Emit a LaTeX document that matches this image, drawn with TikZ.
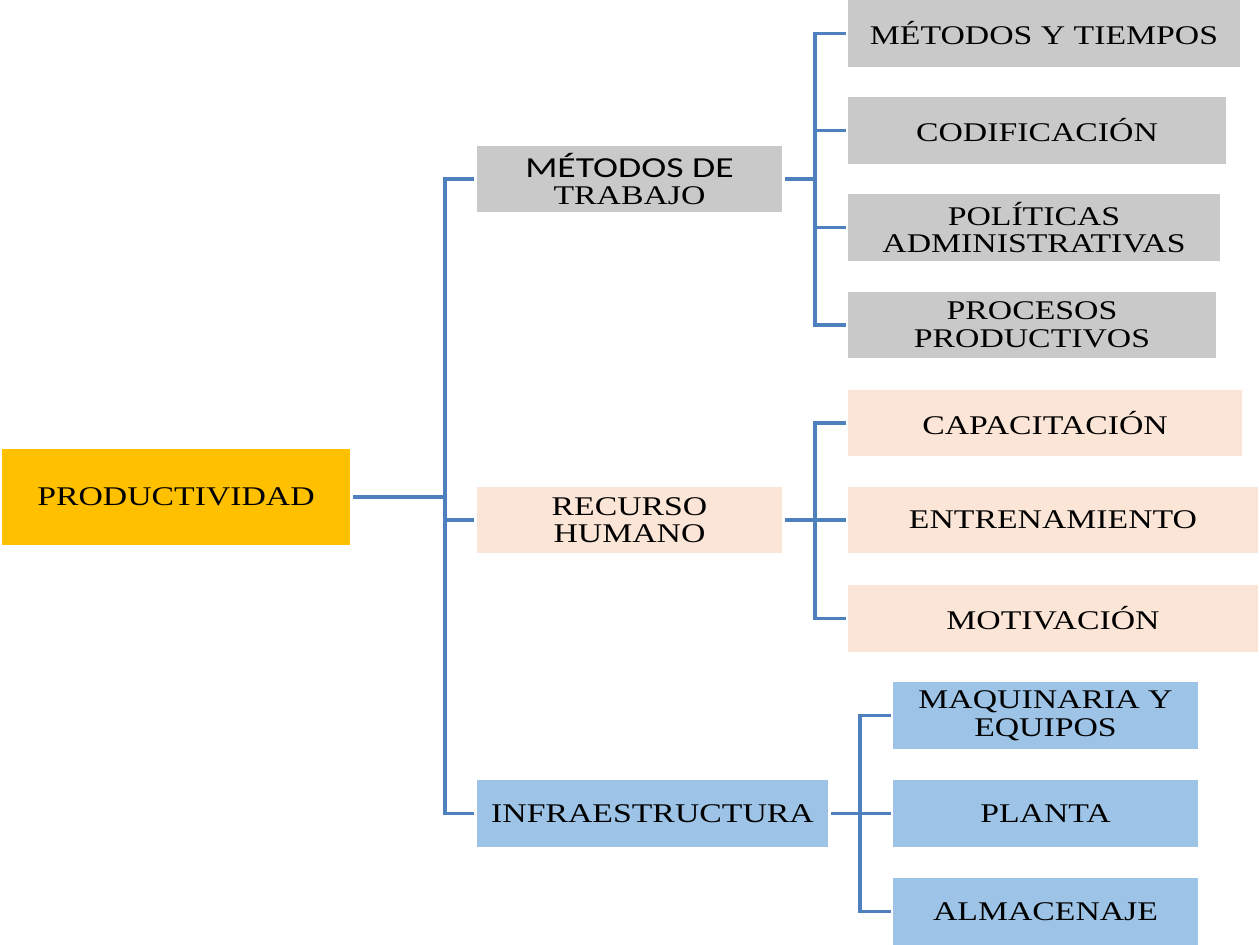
\documentclass[tikz,border=0pt]{standalone}
\usepackage{fontspec}
\setmainfont{Liberation Serif}[FakeStretch=1.25]
\newfontfamily\calfont{Carlito}[FakeStretch=1.3]
\definecolor{boxgray}{HTML}{C9C9C9}
\definecolor{boxpeach}{HTML}{FBE5D6}
\definecolor{boxblue}{HTML}{9DC3E6}
\definecolor{boxorange}{HTML}{FFC000}
\definecolor{linkblue}{HTML}{4F80BE}
\begin{document}
\begin{tikzpicture}[x=1pt,y=-1pt,
  box/.style={inner sep=0pt, align=center, text=black,
    font=\fontsize{27}{27.5}\selectfont},
  gbox/.style={box, fill=boxgray},
  pbox/.style={box, fill=boxpeach},
  bbox/.style={box, fill=boxblue},
  obox/.style={box, fill=boxorange},
  link/.style={draw=linkblue, line width=3.2pt}]
\useasboundingbox (0,0) rectangle (1259,945);

% root
\node[obox, minimum width=348, minimum height=96] (prod) at (176,497) {PRODUCTIVIDAD};

% first level
\node[gbox, minimum width=305, minimum height=66] (met) at (629.5,179)
  {{\calfont\fontsize{29}{27.5}\selectfont MÉTODOS DE}\\TRABAJO};
\node[pbox, minimum width=305, minimum height=66] (rec) at (629.5,520) {RECURSO\\HUMANO};
\node[bbox, minimum width=351, minimum height=67] (inf) at (652.5,813.5) {INFRAESTRUCTURA};

% second level: work methods
\node[gbox, minimum width=392, minimum height=67] (mt)  at (1044,33.5)  {MÉTODOS Y TIEMPOS};
\node[gbox, minimum width=378, minimum height=67] (cod) at (1037,130.5) {CODIFICACIÓN};
\node[gbox, minimum width=372, minimum height=67] (pol) at (1034,227.5) {POLÍTICAS\\ADMINISTRATIVAS};
\node[gbox, minimum width=368, minimum height=66] (pro) at (1032,325)   {PROCESOS\\PRODUCTIVOS};

% second level: human resources
\node[pbox, minimum width=394, minimum height=66] (cap) at (1045,423)   {CAPACITACIÓN};
\node[pbox, minimum width=410, minimum height=66] (ent) at (1053,520)   {ENTRENAMIENTO};
\node[pbox, minimum width=410, minimum height=67] (mot) at (1053,618.5) {MOTIVACIÓN};

% second level: infrastructure
\node[bbox, minimum width=305, minimum height=67] (maq) at (1045.5,715.5) {MAQUINARIA Y\\EQUIPOS};
\node[bbox, minimum width=305, minimum height=67] (pla) at (1045.5,813.5) {PLANTA};
\node[bbox, minimum width=305, minimum height=67] (alm) at (1045.5,911.5) {ALMACENAJE};

% bus points
\coordinate (b0) at (445,497);
\coordinate (b1) at (815,179);
\coordinate (b2) at (815,520);
\coordinate (b3) at (860,813.5);

% connectors
\draw[link] ([xshift=3pt]prod.east) -- (b0);
\draw[link] (b0) |- ([xshift=-3pt]met.west);
\draw[link] (b0) |- ([xshift=-3pt]rec.west);
\draw[link] (b0) |- ([xshift=-3pt]inf.west);

\draw[link] ([xshift=3pt]met.east) -- (b1);
\foreach \n in {mt,cod,pol,pro} \draw[link] (b1) |- ([xshift=-2pt]\n.west);

\draw[link] ([xshift=3pt]rec.east) -- (b2);
\foreach \n in {cap,ent,mot} \draw[link] (b2) |- ([xshift=-2pt]\n.west);

\draw[link] ([xshift=3pt]inf.east) -- (b3);
\foreach \n in {maq,pla,alm} \draw[link] (b3) |- ([xshift=-2pt]\n.west);
\end{tikzpicture}
\end{document}
